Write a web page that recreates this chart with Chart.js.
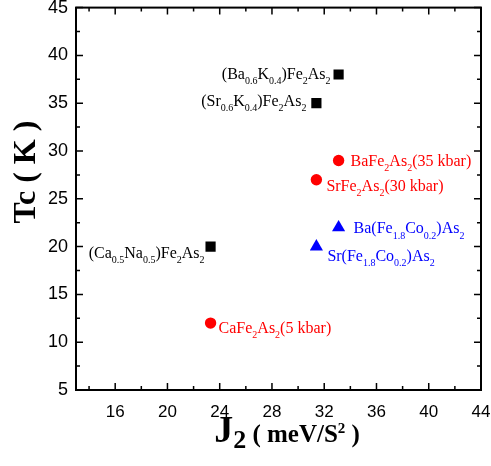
<!DOCTYPE html>
<html>
<head>
<meta charset="utf-8">
<script src="https://cdn.jsdelivr.net/npm/chart.js@4"></script>
<style>
html, body { margin: 0; padding: 0; background: #fff; }
</style>
</head>
<body>
<canvas id="myChart" width="491" height="466"></canvas>
<script>
// data: J2 (meV/S^2) vs Tc (K)
const squareNames = ['(Ba_{0.6}K_{0.4})Fe_{2}As_{2}', '(Sr_{0.6}K_{0.4})Fe_{2}As_{2}', '(Ca_{0.5}Na_{0.5})Fe_{2}As_{2}'];
const squareJ2 = [33.1, 31.4, 23.3];
const squareTc = [38, 35, 20];

const circleNames = ['BaFe_{2}As_{2}(35 kbar)', 'SrFe_{2}As_{2}(30 kbar)', 'CaFe_{2}As_{2}(5 kbar)'];
const circleJ2 = [33.1, 31.4, 23.3];
const circleTc = [29, 27, 12];

const triangleNames = ['Ba(Fe_{1.8}Co_{0.2})As_{2}', 'Sr(Fe_{1.8}Co_{0.2})As_{2}'];
const triangleJ2 = [33.1, 31.4];
const triangleTc = [22, 20];

const xTicks = [16, 20, 24, 28, 32, 36, 40, 44];
const yTicks = [5, 10, 15, 20, 25, 30, 35, 40, 45];

// label placement relative to each point (pixels): [dx, dy, align]
const squareLabelPos = [[-8, 4, 'right'], [-10, 3, 'right'], [-6, 11, 'right']];
const circleLabelPos = [[12, 5, 'left'], [10, 11, 'left'], [8, 10, 'left']];
const triangleLabelPos = [[15, 6, 'left'], [11, 14, 'left']];

const SERIF = '"Liberation Serif", "Times New Roman", serif';
const SANS = '"Liberation Sans", Arial, sans-serif';

function toPoints(xs, ys) {
    return xs.map((x, i) => ({ x: x, y: ys[i] }));
}

// parse "Fe_{2}" style markup into segments
function richParts(str, size) {
    const parts = [];
    const re = /([_^])\{([^}]*)\}|([^_^]+)/g;
    let m;
    while ((m = re.exec(str))) {
        if (m[3]) parts.push({ t: m[3], s: size, dy: 0 });
        else parts.push({ t: m[2], s: Math.round(size * 0.62), dy: m[1] === '_' ? size * 0.33 : -size * 0.4 });
    }
    return parts;
}

function drawParts(ctx, parts, x, y, align, color, weight) {
    ctx.save();
    ctx.fillStyle = color;
    ctx.textBaseline = 'alphabetic';
    ctx.textAlign = 'left';
    let total = 0;
    parts.forEach(p => {
        ctx.font = (weight || '') + ' ' + p.s + 'px ' + SERIF;
        p.w = ctx.measureText(p.t).width;
        total += p.w;
    });
    let cx = x;
    if (align === 'right') cx = x - total;
    if (align === 'center') cx = x - total / 2;
    parts.forEach(p => {
        ctx.font = (weight || '') + ' ' + p.s + 'px ' + SERIF;
        ctx.fillText(p.t, cx, y + p.dy);
        cx += p.w;
    });
    ctx.restore();
}

const framePlugin = {
    id: 'frame',
    afterDraw(chart) {
        const ctx = chart.ctx;
        const a = chart.chartArea;
        const xs = chart.scales.x, ys = chart.scales.y;
        ctx.save();
        ctx.strokeStyle = '#000';
        ctx.lineWidth = 1.5;
        // minor / major ticks pointing inward on all sides
        for (let v = 14; v <= 44; v += 2) {
            const px = xs.getPixelForValue(v);
            const len = (v % 4 === 0) ? 7 : 4;
            ctx.beginPath();
            ctx.moveTo(px, a.bottom); ctx.lineTo(px, a.bottom - len);
            ctx.moveTo(px, a.top); ctx.lineTo(px, a.top + len);
            ctx.stroke();
        }
        for (let v = 5; v <= 45; v += 2.5) {
            const py = ys.getPixelForValue(v);
            const len = (v % 5 === 0) ? 7 : 4;
            ctx.beginPath();
            ctx.moveTo(a.left, py); ctx.lineTo(a.left + len, py);
            ctx.moveTo(a.right, py); ctx.lineTo(a.right - len, py);
            ctx.stroke();
        }
        ctx.lineWidth = 2;
        ctx.strokeRect(a.left, a.top, a.right - a.left, a.bottom - a.top);

        // axis titles
        ctx.translate(27, 172);
        ctx.rotate(-Math.PI / 2);
        ctx.fillStyle = '#000';
        ctx.font = 'bold 32px ' + SERIF;
        ctx.textAlign = 'center';
        ctx.textBaseline = 'middle';
        ctx.fillText('Tc ( K )', 0, 0);
        ctx.restore();

        const xTitle = [
            { t: 'J', s: 38, dy: 0 },
            { t: '2', s: 26, dy: 6 },
            { t: ' ( meV/S', s: 25, dy: 0 },
            { t: '2', s: 15, dy: -9 },
            { t: ' )', s: 25, dy: 0 }
        ];
        drawParts(ctx, xTitle, 287, 442, 'center', '#000', 'bold');
    }
};

const labelPlugin = {
    id: 'pointLabels',
    afterDatasetsDraw(chart) {
        const ctx = chart.ctx;
        const groups = [
            [squareNames, squareLabelPos],
            [circleNames, circleLabelPos],
            [triangleNames, triangleLabelPos]
        ];
        groups.forEach((g, di) => {
            const meta = chart.getDatasetMeta(di);
            const color = chart.data.datasets[di].backgroundColor;
            g[0].forEach((name, i) => {
                const el = meta.data[i];
                const pos = g[1][i];
                drawParts(ctx, richParts(name, 16), el.x + pos[0], el.y + pos[1], pos[2], color);
            });
        });
    }
};

const ctx = document.getElementById('myChart').getContext('2d');
new Chart(ctx, {
    type: 'scatter',
    data: {
        datasets: [{
            label: 'K/Na doped',
            data: toPoints(squareJ2, squareTc),
            pointStyle: 'rect',
            pointRadius: 7.2,
            backgroundColor: '#000000',
            borderColor: '#000000',
            borderWidth: 0
        }, {
            label: 'under pressure',
            data: toPoints(circleJ2, circleTc),
            pointStyle: 'circle',
            pointRadius: 5.7,
            backgroundColor: '#ff0000',
            borderColor: '#ff0000',
            borderWidth: 0
        }, {
            label: 'Co doped',
            data: toPoints(triangleJ2, triangleTc),
            pointStyle: 'triangle',
            pointRadius: 7.6,
            backgroundColor: '#0000ff',
            borderColor: '#0000ff',
            borderWidth: 0
        }]
    },
    options: {
        responsive: false,
        animation: false,
        layout: { padding: { top: 5, right: 10, left: 0, bottom: 0 } },
        plugins: {
            legend: { display: false },
            tooltip: { enabled: false }
        },
        scales: {
            x: {
                type: 'linear',
                min: 13,
                max: 44,
                afterBuildTicks: s => { s.ticks = xTicks.map(v => ({ value: v })); },
                afterFit: s => { s.height = 76; s.paddingLeft = 0; s.paddingRight = 0; },
                grid: { display: false, drawTicks: false },
                border: { display: false },
                ticks: { color: '#000', padding: 12, maxRotation: 0, font: { family: SANS, size: 17 } }
            },
            y: {
                type: 'linear',
                min: 5,
                max: 45,
                afterBuildTicks: s => { s.ticks = yTicks.map(v => ({ value: v })); },
                afterFit: s => { s.width = 76; s.paddingTop = 0; s.paddingBottom = 0; },
                grid: { display: false, drawTicks: false },
                border: { display: false },
                ticks: { color: '#000', padding: 8, font: { family: SANS, size: 18 } }
            }
        }
    },
    plugins: [framePlugin, labelPlugin]
});
</script>
</body>
</html>
